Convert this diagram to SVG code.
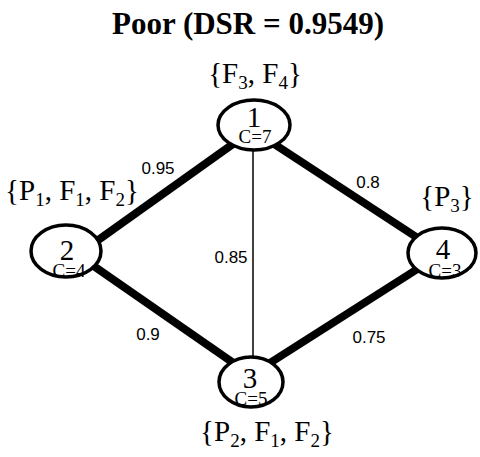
<svg xmlns="http://www.w3.org/2000/svg" width="480" height="457" viewBox="0 0 480 457">
<style>
.serif{font-family:"Liberation Serif","Times New Roman",serif;fill:#000}
.sans{font-family:"Liberation Sans",Arial,sans-serif;fill:#000;font-size:17px}
.node{fill:#fff;stroke:#000;stroke-width:3.5}
.thick{stroke:#000;stroke-width:8;stroke-linecap:butt}
.thin{stroke:#000;stroke-width:1.5}
.num{font-size:29px}
.cap{font-size:19px}
.set{font-size:29px}
.sub{font-size:19px}
</style>
<rect width="480" height="457" fill="#fff"/>
<text class="serif" x="248" y="34" text-anchor="middle" font-size="31" font-weight="bold">Poor (DSR = 0.9549)</text>
<g id="connectors">
<line class="thick" x1="80" y1="253" x2="240" y2="139"/>
<line class="thick" x1="268" y1="140" x2="430" y2="246"/>
<line class="thick" x1="85" y1="260" x2="245" y2="371"/>
<line class="thick" x1="262" y1="368" x2="430" y2="261"/>
<line class="thin" x1="253" y1="148" x2="253" y2="360"/>
<text class="sans" x="158" y="174" text-anchor="middle">0.95</text>
<text class="sans" x="368" y="188" text-anchor="middle">0.8</text>
<text class="sans" x="231" y="263" text-anchor="middle">0.85</text>
<text class="sans" x="148" y="340" text-anchor="middle">0.9</text>
<text class="sans" x="369" y="343" text-anchor="middle">0.75</text>
</g>
<g id="node1">
<ellipse class="node" cx="254" cy="125" rx="36" ry="25"/>
<text class="serif" text-anchor="middle"><tspan class="num" x="254" y="127">1</tspan><tspan class="cap" x="255" y="143">C=7</tspan></text>
<text class="serif set" x="255" y="83" text-anchor="middle">{F<tspan class="sub" dy="6">3</tspan><tspan dy="-6">, F</tspan><tspan class="sub" dy="6">4</tspan><tspan dy="-6">}</tspan></text>
</g>
<g id="node2">
<ellipse class="node" cx="66" cy="251" rx="35" ry="26"/>
<text class="serif" text-anchor="middle"><tspan class="num" x="67" y="260">2</tspan><tspan class="cap" x="69" y="277">C=4</tspan></text>
<text class="serif set" x="72" y="200" text-anchor="middle">{P<tspan class="sub" dy="6">1</tspan><tspan dy="-6">, F</tspan><tspan class="sub" dy="6">1</tspan><tspan dy="-6">, F</tspan><tspan class="sub" dy="6">2</tspan><tspan dy="-6">}</tspan></text>
</g>
<g id="node3">
<ellipse class="node" cx="251" cy="382" rx="32" ry="25"/>
<text class="serif" text-anchor="middle"><tspan class="num" x="250" y="388">3</tspan><tspan class="cap" x="251" y="405">C=5</tspan></text>
<text class="serif set" x="267" y="441" text-anchor="middle">{P<tspan class="sub" dy="6">2</tspan><tspan dy="-6">, F</tspan><tspan class="sub" dy="6">1</tspan><tspan dy="-6">, F</tspan><tspan class="sub" dy="6">2</tspan><tspan dy="-6">}</tspan></text>
</g>
<g id="node4">
<ellipse class="node" cx="442" cy="253" rx="34" ry="25"/>
<text class="serif" text-anchor="middle"><tspan class="num" x="443" y="259">4</tspan><tspan class="cap" x="445" y="277">C=3</tspan></text>
<text class="serif set" x="447" y="206" text-anchor="middle">{P<tspan class="sub" dy="6">3</tspan><tspan dy="-6">}</tspan></text>
</g>
</svg>
